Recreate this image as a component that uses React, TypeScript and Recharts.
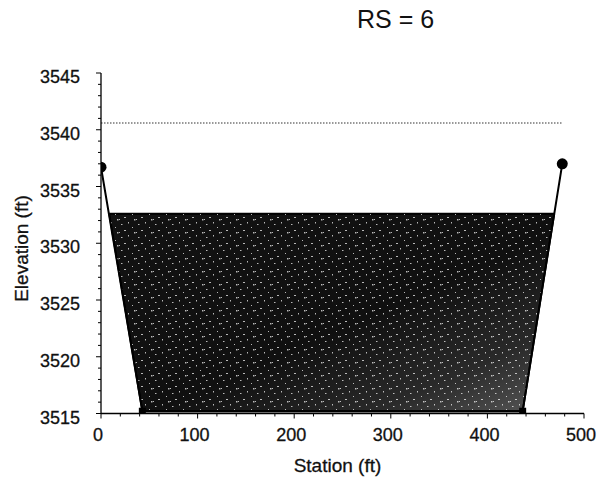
import React from 'react';
import { ComposedChart, Area, Line, XAxis, YAxis } from 'recharts';

// cross section
const groundStation = [0, 42.8, 436.5, 477.5];
const groundElevation = [3536.7, 3515.2, 3515.2, 3537.0];

// wetted area: bed and water surface at each station
const waterStation = [8.5, 42.8, 436.5, 469.2];
const waterBed = [3532.6, 3515.2, 3515.2, 3532.6];
const waterSurface = 3532.6;

// dotted level line
const levelStation = [0, 477];
const levelElevation = 3540.6;

const xTicks = [0, 20, 40, 60, 80, 100, 120, 140, 160, 180, 200, 220, 240, 260, 280, 300, 320, 340, 360, 380, 400, 420, 440, 460, 480, 500];
const xLabels = [0, 100, 200, 300, 400, 500];
const yTicks = [3515, 3516, 3517, 3518, 3519, 3520, 3521, 3522, 3523, 3524, 3525, 3526, 3527, 3528, 3529, 3530,
  3531, 3532, 3533, 3534, 3535, 3536, 3537, 3538, 3539, 3540, 3541, 3542, 3543, 3544, 3545];
const yLabels = [3515, 3520, 3525, 3530, 3535, 3540, 3545];

const groundData = groundStation.map((x, i) => ({ x, y: groundElevation[i] }));
const waterData = waterStation.map((x, i) => ({ x, band: [waterBed[i], waterSurface] }));
const levelData = levelStation.map((x) => ({ x, y: levelElevation }));

const FONT = '"Liberation Sans", Arial, Helvetica, sans-serif';
const INK = '#111';

const renderXTick = (props: any) => {
    const { x, y, payload } = props;
    const major = xLabels.includes(payload.value);
    return (
        <g>
            <line x1={x} x2={x} y1={y} y2={y + (major ? 5 : 3)} stroke="#000" strokeWidth={1} />
            {major && (
                <text x={x - 3} y={y + 27} textAnchor="middle" fontSize={18} fontFamily={FONT} fill={INK}
                    stroke={INK} strokeWidth={0.3}>
                    {payload.value}
                </text>
            )}
        </g>
    );
};

const renderYTick = (props: any) => {
    const { x, y, payload } = props;
    const major = yLabels.includes(payload.value);
    return (
        <g>
            <line x1={x} x2={x - (major ? 5 : 3)} y1={y} y2={y} stroke="#000" strokeWidth={1} />
            {major && (
                <text x={x - 21} y={y + 10} textAnchor="end" fontSize={18} fontFamily={FONT} fill={INK}
                    stroke={INK} strokeWidth={0.3}>
                    {payload.value}
                </text>
            )}
        </g>
    );
};

const renderGroundDot = (props: any) => {
    const { cx, cy, index } = props;
    if (index === 0 || index === groundData.length - 1) {
        return <circle key={`gd-${index}`} cx={cx} cy={cy} r={5.5} fill="#000" />;
    }
    return <rect key={`gd-${index}`} x={cx - 3.5} y={cy - 3.5} width={7} height={7} fill="#000" />;
};

export default function App() {
    return (
        <div style={{ position: 'relative', width: 611, height: 482, background: '#fff' }}>
            <style>{`body{margin:0}`}</style>
            <ComposedChart width={611} height={482} margin={{ top: 73, right: 27, bottom: 38.5, left: 0 }}>
                <defs>
                    <linearGradient id="waterShade" x1="0" y1="0" x2="1" y2="1">
                        <stop offset="0" stopColor="#121212" />
                        <stop offset="0.55" stopColor="#101010" />
                        <stop offset="0.8" stopColor="#2a2a2a" />
                        <stop offset="1" stopColor="#595959" />
                    </linearGradient>
                    <pattern id="speckle" width="17" height="13" patternUnits="userSpaceOnUse">
                        <rect x="2" y="3" width="1.5" height="1" fill="#fff" />
                        <rect x="9" y="1" width="1" height="1.5" fill="#fff" />
                        <rect x="5" y="9" width="2" height="1" fill="#fff" />
                        <rect x="13" y="6" width="1" height="1" fill="#fff" />
                        <rect x="0" y="11" width="1" height="1" fill="#fff" />
                        <rect x="15" y="11" width="1.5" height="1.5" fill="#fff" />
                    </pattern>
                </defs>
                <XAxis
                    type="number"
                    dataKey="x"
                    domain={[0, 500]}
                    ticks={xTicks}
                    interval={0}
                    allowDataOverflow
                    height={30}
                    tickSize={0}
                    tickMargin={0}
                    tickLine={false}
                    tick={renderXTick}
                    axisLine={{ stroke: '#000', strokeWidth: 1.3 }}
                />
                <YAxis
                    type="number"
                    domain={[3515, 3545]}
                    ticks={yTicks}
                    interval={0}
                    allowDataOverflow
                    width={101}
                    tickSize={0}
                    tickMargin={0}
                    tickLine={false}
                    tick={renderYTick}
                    axisLine={{ stroke: '#000', strokeWidth: 1.3 }}
                />
                <Area
                    data={waterData}
                    dataKey="band"
                    type="linear"
                    fill="url(#waterShade)"
                    fillOpacity={1}
                    stroke="#000"
                    strokeWidth={1.8}
                    dot={false}
                    activeDot={false}
                    isAnimationActive={false}
                />
                <Area
                    data={waterData}
                    dataKey="band"
                    type="linear"
                    fill="url(#speckle)"
                    fillOpacity={0.7}
                    stroke="none"
                    dot={false}
                    activeDot={false}
                    isAnimationActive={false}
                />
                <Line
                    data={levelData}
                    dataKey="y"
                    type="linear"
                    stroke="#333"
                    strokeWidth={1.1}
                    strokeDasharray="1.5 1.5"
                    dot={false}
                    activeDot={false}
                    isAnimationActive={false}
                />
                <Line
                    data={groundData}
                    dataKey="y"
                    type="linear"
                    stroke="#000"
                    strokeWidth={2}
                    dot={renderGroundDot}
                    activeDot={false}
                    isAnimationActive={false}
                />
            </ComposedChart>
            <svg width={611} height={482} style={{ position: 'absolute', left: 0, top: 0, pointerEvents: 'none' }}>
                <text x={357} y={28} fontSize={25} fontFamily={FONT} fill={INK}>RS = 6</text>
                <text x={337.5} y={472} textAnchor="middle" fontSize={19} fontFamily={FONT} fill={INK}
                    stroke={INK} strokeWidth={0.3}>Station (ft)</text>
                <text x={0} y={0} textAnchor="middle" fontSize={19} fontFamily={FONT} fill={INK}
                    stroke={INK} strokeWidth={0.3}
                    transform="translate(28, 248.5) rotate(-90)">Elevation (ft)</text>
            </svg>
        </div>
    );
}
